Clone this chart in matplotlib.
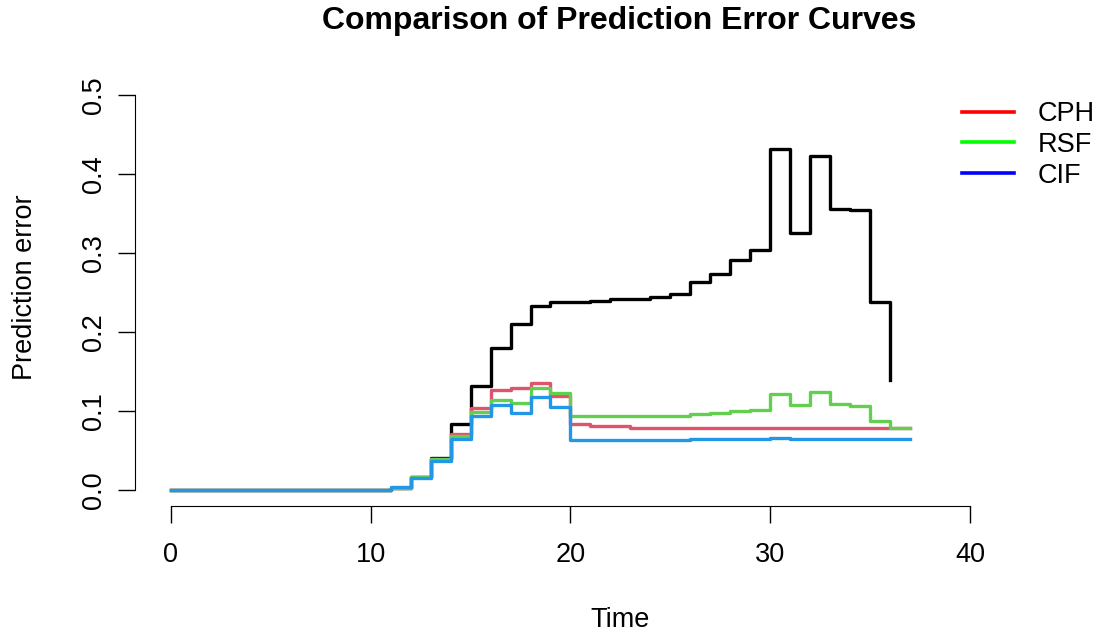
import matplotlib
matplotlib.use("Agg")
import matplotlib.pyplot as plt

plt.rcParams['font.family'] = ['Liberation Sans', 'DejaVu Sans']

# Моменты времени (ступени)
times = [0, 11, 12, 13, 14, 15, 16, 17, 18, 19, 20, 21, 22, 23, 24, 25, 26, 27, 28, 29,
         30, 31, 32, 33, 34, 35, 36, 37]

# Reference (чёрная) кривая заканчивается в t=36
reference_err = [0.0, 0.003, 0.016, 0.040, 0.083, 0.131, 0.179, 0.210, 0.233, 0.238, 0.238,
                 0.239, 0.241, 0.242, 0.244, 0.248, 0.263, 0.273, 0.291, 0.304, 0.431,
                 0.325, 0.423, 0.356, 0.354, 0.238, 0.139]

cph_err = [0.0, 0.003, 0.016, 0.039, 0.071, 0.104, 0.127, 0.1295, 0.135, 0.119, 0.0835,
           0.081, 0.081, 0.079, 0.079, 0.079, 0.079, 0.079, 0.079, 0.079, 0.079,
           0.079, 0.079, 0.079, 0.079, 0.079, 0.079, 0.079]

rsf_err = [0.0, 0.003, 0.016, 0.039, 0.068, 0.099, 0.114, 0.1105, 0.1295, 0.123, 0.093,
           0.093, 0.093, 0.093, 0.093, 0.093, 0.096, 0.098, 0.100, 0.101, 0.1215,
           0.1076, 0.124, 0.1085, 0.106, 0.087, 0.079, 0.079]

cif_err = [0.0, 0.0034, 0.0156, 0.037, 0.0646, 0.093, 0.107, 0.098, 0.117, 0.1046, 0.063,
           0.063, 0.063, 0.063, 0.063, 0.063, 0.065, 0.065, 0.064, 0.065, 0.066,
           0.064, 0.065, 0.064, 0.065, 0.064, 0.064, 0.064]

model_names = ['CPH', 'RSF', 'CIF']
legend_colors = ['#FF0000', '#00FF00', '#0000FF']
curve_colors = ['#DF536B', '#61D04F', '#2297E6']

fig = plt.figure(figsize=(11.06, 6.34), dpi=100)
ax = fig.add_axes([135 / 1106, 128 / 634, 968 / 1106, 427 / 634])

# Кривые ошибок
ax.step(times[:len(reference_err)], reference_err, where='post', color='black', lw=2.4)
for values, color in zip([cph_err, rsf_err, cif_err], curve_colors):
    ax.step(times, values, where='post', color=color, lw=2.4)

ax.set_xlim(-1.8, 46.66)
ax.set_ylim(-0.0203, 0.52)

# Оси в стиле R
for side in ['top', 'right']:
    ax.spines[side].set_visible(False)
ax.spines['left'].set_bounds(0, 0.5)
ax.spines['bottom'].set_bounds(0, 40)
ax.set_xticks([0, 10, 20, 30, 40])
ax.set_yticks([0.0, 0.1, 0.2, 0.3, 0.4, 0.5])
ax.set_yticklabels(['0.0', '0.1', '0.2', '0.3', '0.4', '0.5'], rotation=90, va='center')
ax.tick_params(axis='both', length=12, width=1, labelsize=19.5)
ax.tick_params(axis='x', pad=14)
ax.tick_params(axis='y', pad=8)

ax.set_xlabel('Time', fontsize=19.5, va='center')
ax.xaxis.set_label_coords(0.501, -0.267)
ax.set_ylabel('Prediction error', fontsize=19.5, va='center')
ax.yaxis.set_label_coords(-0.1136, 0.513)
ax.set_title('Comparison of Prediction Error Curves', fontsize=23, fontweight='bold',
             y=1.098, va='baseline')

# Легенда с "чистыми" цветами
handles = [plt.Line2D([], [], color=c, lw=2.6) for c in legend_colors]
fig.legend(handles, model_names, loc='upper left', bbox_to_anchor=(962 / 1106, 1 - 101 / 634),
           frameon=False, fontsize=19.5, handlelength=1.93, handletextpad=0.85,
           labelspacing=0.18, borderpad=0, borderaxespad=0)

fig.savefig('out.png', dpi=100)
